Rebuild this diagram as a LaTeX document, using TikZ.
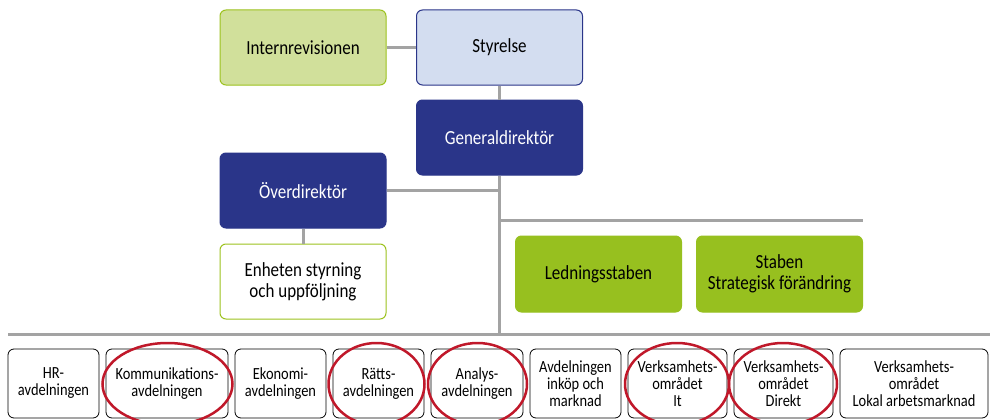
\documentclass[tikz,border=0pt]{standalone}
\usepackage{fontspec}
\setmainfont{Carlito}[FakeStretch=0.85]
\usetikzlibrary{positioning}
\definecolor{navy}{HTML}{2A3589}
\definecolor{lightblue}{HTML}{D3DDF0}
\definecolor{lgreen}{HTML}{D1E09B}
\definecolor{green}{HTML}{97C01F}
\definecolor{gborder}{HTML}{9CC21E}
\definecolor{lgray}{HTML}{A3A3A3}
\definecolor{ring}{HTML}{C0182A}
\tikzset{
  topbox/.style={rectangle, rounded corners=6pt, minimum width=166pt, minimum height=75pt, align=center, font=\fontsize{20}{21}\selectfont, line width=1pt, inner sep=2pt},
  boardbox/.style={topbox, draw=navy, fill=lightblue, text=black},
  navybox/.style={topbox, draw=navy, fill=navy, text=white},
  auditbox/.style={topbox, draw=gborder, fill=lgreen, text=black},
  whitegbox/.style={topbox, draw=gborder, fill=white, text=black},
  staffbox/.style={topbox, draw=green, fill=green, text=black},
  deptbox/.style={rectangle, rounded corners=6pt, minimum height=69pt, align=center, draw=black, line width=0.8pt, font=\fontsize{17}{17}\selectfont, inner sep=1pt},
  conn/.style={draw=lgray, line width=3pt},
  redring/.style={draw=ring, line width=2.5pt}
}
\begin{document}
\begin{tikzpicture}[x=1pt, y=-1pt]
\useasboundingbox[fill=white] (0,0) rectangle (990,420);
% top boxes
\node[auditbox] (intern) at (303,47.5) {Internrevisionen};
\node[boardbox] (styr) at (499.5,47.5) {Styrelse};
\node[navybox] (gd) at (499.5,137.5) {Generaldirektör};
\node[navybox] (od) at (303,190.5) {Överdirektör};
\node[whitegbox] (enh) at (303,281.5) {Enheten styrning\\och uppföljning};
\node[staffbox, minimum height=76pt] (led) at (598.5,274) {Ledningsstaben};
\node[staffbox, minimum height=76pt] (strat) at (779.5,274) {Staben\\Strategisk förändring};
% coordinates
\coordinate (spine) at (499.5,334);
\coordinate (odj) at (499.5,190.5);
\coordinate (stj) at (499.5,220);
\coordinate (stend) at (863,220);
\coordinate (bl) at (8,334);
\coordinate (br) at (990,334);
% connectors
\draw[conn] (intern.east) -- (styr.west);
\draw[conn] (styr.south) -- (gd.north);
\draw[conn] (gd.south) -- (spine);
\draw[conn] (od.east) -- (odj);
\draw[conn] (stj) -- (stend);
\draw[conn] (od.south) -- (enh.north);
\draw[conn] (bl) -- (br);
% departments
\node[deptbox, minimum width=91pt] (hr) at (53.5,383.5) {HR-\\avdelningen};
\node[deptbox, minimum width=122pt] (komm) at (167,383.5) {Kommunikations-\\avdelningen};
\node[deptbox, minimum width=91pt] (ekon) at (280.5,383.5) {Ekonomi-\\avdelningen};
\node[deptbox, minimum width=91pt] (ratt) at (378.5,383.5) {Rätts-\\avdelningen};
\node[deptbox, minimum width=92pt] (anal) at (477,383.5) {Analys-\\avdelningen};
\node[deptbox, minimum width=91pt] (ink) at (575.5,383.5) {Avdelningen\\inköp och\\marknad};
\node[deptbox, minimum width=99pt] (it) at (677.5,383.5) {Verksamhets-\\området\\It};
\node[deptbox, minimum width=99pt] (dir) at (783.5,383.5) {Verksamhets-\\området\\Direkt};
\node[deptbox, minimum width=148pt] (lok) at (914,383.5) {Verksamhets-\\området\\Lokal arbetsmarknad};
% red rings
\draw[redring] (167.5,384) ellipse [x radius=65, y radius=41];
\draw[redring] (376.5,384) ellipse [x radius=48, y radius=41];
\draw[redring] (477.5,384) ellipse [x radius=49.5, y radius=41];
\draw[redring] (677,384) ellipse [x radius=52, y radius=41];
\draw[redring] (783,384) ellipse [x radius=54, y radius=41];
\end{tikzpicture}
\end{document}
